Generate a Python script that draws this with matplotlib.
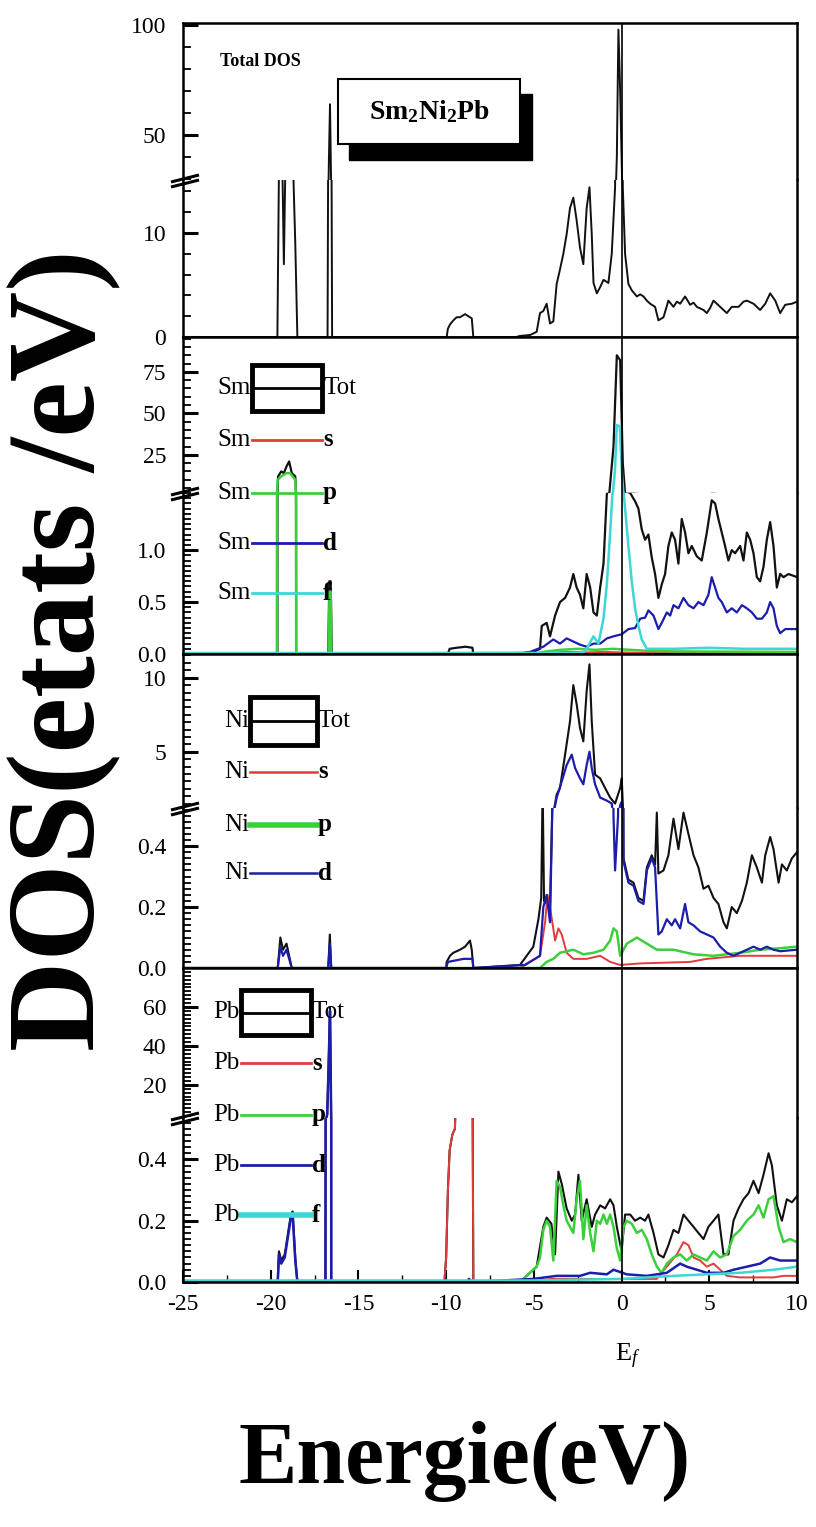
# Partial DOS of Sm2Ni2Pb : total + Sm / Ni / Pb projected DOS with broken y axes

import numpy as np
import matplotlib
matplotlib.use('Agg')
import matplotlib.pyplot as plt
from matplotlib.patches import Rectangle
from matplotlib.ticker import MultipleLocator, FixedLocator, FormatStrFormatter

plt.rcParams['font.family'] = ['Liberation Serif', 'DejaVu Serif']
plt.rcParams['mathtext.fontset'] = 'custom'
plt.rcParams['mathtext.rm'] = 'Liberation Serif'
plt.rcParams['mathtext.it'] = 'Liberation Serif:italic'
plt.rcParams['mathtext.bf'] = 'Liberation Serif:bold'
plt.rcParams['axes.unicode_minus'] = False

#~()~()~()~()~()~()~()~()~()~()~()~()~()~()~()~()~()~()~()~()~()~()~()~()~#
# data : (energy eV, DOS states/eV)

total_dos = np.array([
    (-25, 0), (-19.62, 0), (-19.52, 18), (-19.35, 18), (-19.25, 7), (-19.15, 18), (-18.75, 18),
    (-18.6, 9), (-18.48, 0), (-16.76, 0), (-16.68, 40), (-16.62, 64), (-16.56, 30), (-16.5, 0),
    (-9.97, 0), (-9.9, 0.8), (-9.78, 1.2), (-9.59, 1.6), (-9.4, 1.9), (-9.21, 1.9), (-8.92, 2.2),
    (-8.64, 1.9), (-8.54, 1.8), (-8.45, 0), (-6.0, 0), (-5.8, 0.1), (-5.2, 0.2), (-4.84, 0.5),
    (-4.65, 2.3), (-4.46, 2.5), (-4.27, 3.2), (-4.08, 1.3), (-3.89, 1.5), (-3.70, 5.1), (-3.51, 6.5),
    (-3.32, 8.0), (-3.13, 9.9), (-2.94, 12.4), (-2.75, 13.4), (-2.56, 11.2), (-2.37, 8.6),
    (-2.18, 7.0), (-1.99, 12.4), (-1.83, 14.4), (-1.70, 9.9), (-1.60, 5.2), (-1.41, 4.2),
    (-1.22, 4.8), (-1.03, 5.5), (-0.75, 5.2), (-0.56, 8.0), (-0.37, 14.4), (-0.27, 40),
    (-0.18, 98), (-0.08, 70), (0.07, 14.4), (0.20, 8.0), (0.39, 5.1), (0.58, 4.5), (0.87, 3.9),
    (1.06, 4.1), (1.25, 3.9), (1.44, 3.5), (1.63, 3.2), (1.91, 2.9), (2.10, 1.6), (2.39, 1.9),
    (2.67, 3.5), (2.96, 2.9), (3.15, 3.4), (3.34, 3.2), (3.62, 3.9), (3.91, 3.1), (4.10, 3.3),
    (4.29, 2.9), (4.67, 2.6), (4.86, 2.3), (5.05, 2.8), (5.24, 3.5), (5.62, 2.9), (6.0, 2.3),
    (6.28, 2.9), (6.67, 2.9), (6.95, 3.4), (7.14, 3.5), (7.52, 3.2), (7.90, 2.6), (8.19, 3.2),
    (8.47, 4.2), (8.76, 3.5), (9.04, 2.3), (9.33, 3.1), (9.71, 3.2), (10.0, 3.4)])

sm_tot = np.array([
    (-25, 0), (-19.62, 0), (-19.58, 12), (-19.4, 15), (-19.25, 14), (-19.1, 18), (-18.95, 21),
    (-18.8, 14), (-18.6, 12), (-18.55, 0), (-16.72, 0), (-16.66, 0.7), (-16.58, 0.7), (-16.52, 0),
    (-9.9, 0), (-9.8, 0.05), (-9.4, 0.06), (-8.9, 0.07), (-8.5, 0.06), (-8.45, 0), (-5.6, 0.01),
    (-5.03, 0.02), (-4.65, 0.05), (-4.55, 0.27), (-4.27, 0.30), (-4.08, 0.17), (-3.79, 0.37),
    (-3.51, 0.50), (-3.22, 0.54), (-2.94, 0.64), (-2.75, 0.77), (-2.56, 0.64), (-2.37, 0.57),
    (-2.18, 0.44), (-1.99, 0.77), (-1.79, 0.64), (-1.60, 0.40), (-1.41, 0.37), (-1.22, 0.64),
    (-1.03, 0.87), (-0.84, 1.54), (-0.70, 1.6), (-0.46, 30), (-0.27, 85), (-0.08, 82), (0.07, 20),
    (0.20, 1.57), (0.49, 1.55), (0.77, 1.47), (0.96, 1.40), (1.15, 1.20), (1.34, 1.10), (1.53, 1.15),
    (1.72, 0.93), (1.91, 0.77), (2.10, 0.54), (2.29, 0.67), (2.48, 0.77), (2.67, 1.04), (2.86, 1.17),
    (3.05, 1.10), (3.24, 0.87), (3.43, 1.30), (3.62, 1.17), (3.81, 0.97), (4.00, 1.04), (4.29, 0.94),
    (4.57, 0.90), (4.86, 1.17), (5.14, 1.48), (5.33, 1.45), (5.52, 1.30), (5.71, 1.17), (5.90, 1.04),
    (6.09, 0.90), (6.28, 1.00), (6.47, 0.97), (6.76, 1.04), (6.95, 0.90), (7.14, 1.17), (7.33, 1.10),
    (7.52, 0.97), (7.71, 0.74), (7.90, 0.70), (8.09, 0.84), (8.28, 1.10), (8.47, 1.27), (8.66, 1.04),
    (8.85, 0.64), (9.04, 0.77), (9.23, 0.74), (9.52, 0.77), (10.0, 0.74)])

sm_s = np.array([(-25, 0.005), (-5, 0.005), (-4, 0.015), (-3, 0.02), (-2, 0.015), (-1, 0.02),
                 (0, 0.015), (2, 0.01), (10, 0.01)])

sm_p = np.array([
    (-25, 0), (-19.65, 0), (-19.6, 10), (-19.4, 12), (-19.1, 14), (-18.9, 14), (-18.6, 10),
    (-18.55, 0), (-16.7, 0), (-16.65, 0.6), (-16.58, 0.6), (-16.54, 0), (-5, 0), (-4.5, 0.02),
    (-3.5, 0.04), (-2.5, 0.05), (-1.5, 0.04), (-0.5, 0.05), (0.5, 0.04), (1.5, 0.03), (3, 0.025),
    (10, 0.02)])

sm_d = np.array([
    (-25, 0.005), (-5.6, 0.01), (-5.22, 0.02), (-4.46, 0.07), (-3.89, 0.14), (-3.51, 0.10),
    (-3.13, 0.15), (-2.75, 0.12), (-2.37, 0.09), (-1.99, 0.07), (-1.60, 0.10), (-1.22, 0.10),
    (-0.84, 0.15), (-0.46, 0.17), (0.01, 0.19), (0.39, 0.24), (0.77, 0.25), (1.06, 0.34),
    (1.34, 0.35), (1.53, 0.42), (1.82, 0.37), (2.10, 0.24), (2.29, 0.30), (2.58, 0.40), (2.77, 0.37),
    (2.96, 0.47), (3.24, 0.44), (3.53, 0.54), (3.81, 0.47), (4.10, 0.44), (4.38, 0.50), (4.67, 0.47),
    (4.95, 0.57), (5.14, 0.74), (5.33, 0.64), (5.52, 0.54), (5.71, 0.50), (6.00, 0.40), (6.28, 0.44),
    (6.57, 0.40), (6.86, 0.47), (7.14, 0.44), (7.43, 0.40), (7.71, 0.34), (8.00, 0.34), (8.28, 0.40),
    (8.47, 0.50), (8.66, 0.44), (8.85, 0.27), (9.04, 0.20), (9.33, 0.24), (10.0, 0.24)])

sm_f = np.array([
    (-25, 0.01), (-2.2, 0.01), (-1.99, 0.05), (-1.60, 0.17), (-1.32, 0.10), (-1.03, 0.34),
    (-0.84, 0.67), (-0.65, 1.17), (-0.50, 1.6), (-0.38, 15), (-0.27, 43), (-0.10, 42), (0.03, 12),
    (0.11, 1.57), (0.20, 1.40), (0.39, 1.04), (0.58, 0.70), (0.77, 0.44), (0.96, 0.27), (1.15, 0.14),
    (1.44, 0.05), (3, 0.05), (5, 0.06), (7, 0.05), (10, 0.05)])

ni_tot = np.array([
    (-25, 0), (-19.6, 0), (-19.45, 0.10), (-19.3, 0.06), (-19.1, 0.08), (-18.95, 0.04), (-18.8, 0),
    (-16.72, 0), (-16.63, 0.11), (-16.55, 0), (-10.0, 0), (-9.97, 0.02), (-9.78, 0.04), (-9.59, 0.05),
    (-9.21, 0.06), (-8.92, 0.07), (-8.64, 0.09), (-8.54, 0.06), (-8.45, 0), (-5.79, 0.01),
    (-5.41, 0.04), (-5.03, 0.07), (-4.74, 0.16), (-4.58, 0.23), (-4.5, 0.6), (-4.42, 0.22),
    (-4.08, 0.20), (-3.92, 0.6), (-3.70, 2.1), (-3.51, 2.55), (-3.22, 4.8), (-2.94, 7.05),
    (-2.75, 9.5), (-2.56, 8.2), (-2.37, 6.6), (-2.18, 5.7), (-1.99, 9.1), (-1.83, 10.9), (-1.70, 7.05),
    (-1.51, 3.45), (-1.22, 3.2), (-0.94, 2.55), (-0.65, 1.9), (-0.37, 1.5), (-0.08, 2.55), (0.01, 3.2),
    (0.11, 0.36), (0.39, 0.29), (0.68, 0.28), (0.96, 0.23), (1.25, 0.22), (1.44, 0.33), (1.72, 0.37),
    (1.91, 0.34), (2.01, 0.51), (2.10, 0.31), (2.39, 0.32), (2.67, 0.37), (2.96, 0.49), (3.24, 0.39),
    (3.53, 0.51), (3.81, 0.44), (4.10, 0.37), (4.38, 0.33), (4.67, 0.26), (4.95, 0.27), (5.24, 0.23),
    (5.52, 0.21), (5.81, 0.15), (6.00, 0.13), (6.28, 0.20), (6.57, 0.18), (6.86, 0.22), (7.14, 0.28),
    (7.43, 0.37), (7.71, 0.33), (8.00, 0.28), (8.19, 0.37), (8.47, 0.43), (8.66, 0.39), (8.95, 0.28),
    (9.14, 0.34), (9.42, 0.32), (9.71, 0.36), (10.0, 0.38)])

ni_s = np.array([
    (-25, 0), (-5.79, 0), (-5.22, 0.02), (-4.65, 0.04), (-4.36, 0.15), (-4.22, 0.24), (-4.08, 0.20),
    (-3.79, 0.09), (-3.60, 0.13), (-3.41, 0.11), (-3.13, 0.05), (-2.75, 0.03), (-1.99, 0.03),
    (-1.22, 0.04), (-0.65, 0.02), (-0.08, 0.01), (1.06, 0.015), (3.91, 0.02), (4.86, 0.03),
    (6.76, 0.04), (10.0, 0.04)])

ni_p = np.array([
    (-25, 0), (-4.65, 0), (-4.27, 0.02), (-3.89, 0.03), (-3.51, 0.05), (-2.75, 0.06), (-2.18, 0.045),
    (-1.60, 0.05), (-1.03, 0.06), (-0.65, 0.09), (-0.46, 0.13), (-0.27, 0.12), (-0.08, 0.04),
    (0.30, 0.08), (0.87, 0.10), (1.44, 0.08), (2.01, 0.06), (2.96, 0.06), (4.10, 0.045), (5.24, 0.04),
    (6.00, 0.045), (6.76, 0.05), (7.90, 0.06), (9.04, 0.065), (10.0, 0.07)])

ni_d = np.array([
    (-25, 0), (-19.6, 0), (-19.45, 0.07), (-19.3, 0.04), (-19.1, 0.06), (-18.95, 0.03), (-18.8, 0),
    (-16.72, 0), (-16.63, 0.08), (-16.55, 0), (-10.0, 0), (-9.9, 0.02), (-9.0, 0.03), (-8.5, 0.03),
    (-8.45, 0), (-5.5, 0.01), (-5.22, 0.02), (-4.65, 0.04), (-4.46, 0.20), (-4.27, 0.24),
    (-4.08, 0.15), (-3.92, 0.6), (-3.70, 1.9), (-3.41, 3.0), (-3.13, 4.1), (-2.84, 4.8), (-2.65, 3.9),
    (-2.37, 3.2), (-2.18, 2.8), (-1.99, 4.1), (-1.83, 5.0), (-1.70, 3.9), (-1.51, 2.8), (-1.22, 1.9),
    (-0.84, 1.7), (-0.56, 1.5), (-0.46, 0.50), (-0.37, 0.32), (-0.20, 0.50), (-0.08, 1.4), (0.01, 1.6),
    (0.11, 0.35), (0.39, 0.28), (0.68, 0.27), (0.96, 0.22), (1.25, 0.21), (1.44, 0.32), (1.72, 0.36),
    (1.91, 0.33), (2.10, 0.11), (2.29, 0.12), (2.58, 0.16), (2.86, 0.14), (3.05, 0.16), (3.34, 0.13),
    (3.62, 0.21), (3.81, 0.15), (4.10, 0.14), (4.48, 0.12), (4.86, 0.11), (5.24, 0.10), (5.62, 0.07),
    (6.00, 0.05), (6.38, 0.04), (6.76, 0.05), (7.14, 0.06), (7.52, 0.07), (7.90, 0.06), (8.28, 0.07),
    (8.66, 0.06), (9.04, 0.055), (10.0, 0.06)])

pb_tot = np.array([
    (-25, 0), (-19.6, 0), (-19.53, 0.10), (-19.4, 0.07), (-19.2, 0.09), (-18.85, 0.22),
    (-18.75, 0.23), (-18.6, 0.08), (-18.48, 0), (-16.88, 0), (-16.78, 5), (-16.7, 30), (-16.62, 60),
    (-16.55, 0), (-10.1, 0), (-10.0, 0.08), (-9.9, 0.3), (-9.8, 0.43), (-9.65, 0.48), (-9.5, 0.5),
    (-9.4, 0.7), (-8.5, 0.7), (-8.45, 0), (-5.79, 0), (-4.84, 0.05), (-4.46, 0.18), (-4.27, 0.21),
    (-4.00, 0.19), (-3.79, 0.09), (-3.60, 0.36), (-3.41, 0.32), (-3.13, 0.24), (-2.84, 0.20),
    (-2.65, 0.22), (-2.46, 0.35), (-2.27, 0.20), (-1.99, 0.27), (-1.70, 0.18), (-1.51, 0.22),
    (-1.22, 0.25), (-0.94, 0.24), (-0.65, 0.27), (-0.46, 0.25), (-0.27, 0.18), (0.00, 0.10),
    (0.20, 0.22), (0.49, 0.22), (0.77, 0.20), (1.06, 0.21), (1.34, 0.20), (1.53, 0.22), (1.82, 0.16),
    (2.10, 0.09), (2.39, 0.08), (2.67, 0.12), (2.96, 0.17), (3.24, 0.16), (3.53, 0.22), (3.81, 0.20),
    (4.10, 0.18), (4.38, 0.16), (4.67, 0.14), (4.95, 0.18), (5.24, 0.20), (5.52, 0.22), (5.81, 0.09),
    (6.09, 0.09), (6.38, 0.20), (6.67, 0.24), (6.95, 0.27), (7.24, 0.29), (7.52, 0.33), (7.81, 0.29),
    (8.09, 0.35), (8.38, 0.42), (8.57, 0.38), (8.85, 0.25), (9.14, 0.20), (9.42, 0.27), (9.71, 0.26),
    (10.0, 0.28)])

pb_s = np.array([
    (-25, 0), (-10.1, 0), (-10.0, 0.08), (-9.9, 0.3), (-9.8, 0.43), (-9.65, 0.48), (-9.5, 0.5),
    (-9.4, 0.7), (-8.5, 0.7), (-8.45, 0), (-5.0, 0), (-4.0, 0.01), (2.0, 0.01), (2.58, 0.05),
    (3.15, 0.09), (3.53, 0.13), (3.81, 0.12), (4.10, 0.08), (4.48, 0.07), (4.86, 0.05), (5.24, 0.06),
    (5.62, 0.04), (6.00, 0.02), (6.76, 0.015), (8.66, 0.015), (9.23, 0.02), (10.0, 0.02)])

pb_p = np.array([
    (-25, 0), (-5.79, 0), (-5.22, 0.03), (-4.84, 0.05), (-4.65, 0.08), (-4.46, 0.17), (-4.27, 0.20),
    (-4.08, 0.18), (-3.89, 0.07), (-3.70, 0.33), (-3.51, 0.31), (-3.32, 0.25), (-3.13, 0.20),
    (-2.94, 0.18), (-2.75, 0.16), (-2.56, 0.27), (-2.37, 0.33), (-2.18, 0.14), (-1.99, 0.25),
    (-1.79, 0.16), (-1.60, 0.10), (-1.41, 0.20), (-1.22, 0.19), (-1.03, 0.22), (-0.84, 0.19),
    (-0.65, 0.22), (-0.46, 0.18), (-0.27, 0.11), (-0.08, 0.07), (0.11, 0.18), (0.30, 0.20),
    (0.58, 0.19), (0.87, 0.16), (1.15, 0.17), (1.44, 0.14), (1.72, 0.09), (2.01, 0.05), (2.29, 0.03),
    (2.58, 0.06), (2.96, 0.08), (3.34, 0.09), (3.72, 0.07), (4.10, 0.09), (4.48, 0.08), (4.86, 0.07),
    (5.24, 0.10), (5.62, 0.08), (6.00, 0.09), (6.38, 0.15), (6.76, 0.17), (7.14, 0.20), (7.52, 0.22),
    (7.81, 0.25), (8.09, 0.21), (8.38, 0.27), (8.66, 0.28), (8.95, 0.18), (9.23, 0.13), (9.61, 0.14),
    (10.0, 0.13)])

pb_d = np.array([
    (-25, 0), (-19.6, 0), (-19.53, 0.09), (-19.4, 0.06), (-19.2, 0.08), (-18.85, 0.21),
    (-18.75, 0.22), (-18.6, 0.07), (-18.48, 0), (-16.88, 0), (-16.78, 5), (-16.7, 30), (-16.62, 58),
    (-16.55, 0), (-8.8, 0), (-8.7, 0.01), (-8.5, 0), (-5.03, 0.01), (-3.70, 0.02), (-2.37, 0.02),
    (-1.79, 0.03), (-0.84, 0.025), (-0.46, 0.04), (0.30, 0.025), (1.44, 0.02), (2.58, 0.03),
    (3.34, 0.06), (3.72, 0.05), (4.29, 0.04), (4.86, 0.03), (5.81, 0.03), (6.38, 0.04), (7.14, 0.05),
    (7.90, 0.06), (8.47, 0.08), (9.04, 0.07), (10.0, 0.07)])

pb_f = np.array([(-25, 0.005), (-5, 0.005), (0.0, 0.01), (2.96, 0.02), (4.86, 0.025), (6.76, 0.03),
                 (7.71, 0.035), (8.66, 0.04), (10.0, 0.05)])

x_ticks = [-25, -20, -15, -10, -5, 0, 5, 10]
# y tick values for (upper segment, lower segment) of each panel
total_yticks = ([50, 100], [0, 10])
sm_yticks = ([25, 50, 75], [0.0, 0.5, 1.0])
ni_yticks = ([5, 10], [0.0, 0.2, 0.4])
pb_yticks = ([20, 40, 60], [0.0, 0.2, 0.4])
orbitals = ['s', 'p', 'd', 'f']

#~()~()~()~()~()~()~()~()~()~()~()~()~()~()~()~()~()~()~()~()~()~()~()~()~#
W, H = 816, 1527
X0, X1 = 183, 797
c_tot, c_s, c_p, c_d, c_f = '#111111', '#e23b3b', '#3ccf3c', '#1d1dab', '#3fd6d6'


def px_axes(fig, top, bottom):
    return fig.add_axes([X0 / W, 1 - bottom / H, (X1 - X0) / W, (bottom - top) / H])


def style_axis(ax, lim, ticks, minor, fmt):
    ax.set_xlim(-25, 10)
    ax.set_ylim(*lim)
    ax.yaxis.set_major_locator(FixedLocator(ticks))
    ax.yaxis.set_minor_locator(MultipleLocator(minor))
    ax.yaxis.set_major_formatter(FormatStrFormatter(fmt))
    ax.tick_params(axis='y', which='both', direction='in', right=False, labelsize=17, pad=12)
    ax.tick_params(axis='y', which='major', length=11, width=2.2)
    ax.tick_params(axis='y', which='minor', length=6, width=1.3)
    ax.tick_params(axis='x', which='both', bottom=False, top=False, labelbottom=False)
    for sp in ax.spines.values():
        sp.set_linewidth(1.8)
    ax.axvline(0, color='black', lw=1.2, zorder=5)


def plot_dos():
    fig = plt.figure(figsize=(W / 100, H / 100), dpi=100)

    # panel rows: pixel top / break / bottom, limits, minor steps, curves
    panels = [
        (23, 180, 337, (0, 15.1), (29.5, 101), total_yticks, (10, 2), ('%d', '%d'),
         [(total_dos, c_tot, 1.4)]),
        (337, 493, 654, (0, 1.55), (2, 96), sm_yticks, (5, 0.05), ('%d', '%.1f'),
         [(sm_tot, c_tot, 1.6), (sm_s, c_s, 1.4), (sm_p, c_p, 1.8), (sm_d, c_d, 1.6), (sm_f, c_f, 1.8)]),
        (654, 808, 968, (0, 0.525), (1.2, 11.6), ni_yticks, (0.5, 0.02), ('%d', '%.1f'),
         [(ni_tot, c_tot, 1.5), (ni_s, c_s, 1.4), (ni_p, c_p, 1.8), (ni_d, c_d, 1.6)]),
        (968, 1118, 1282, (0, 0.535), (3, 80), pb_yticks, (2, 0.02), ('%d', '%.1f'),
         [(pb_tot, c_tot, 1.5), (pb_s, c_s, 1.4), (pb_p, c_p, 1.8), (pb_d, c_d, 1.8), (pb_f, c_f, 1.8)]),
    ]

    lower_axes = []
    for top, brk, bottom, lo_lim, up_lim, yt, mn, fm, curves in panels:
        ax_u = px_axes(fig, top, brk)
        ax_l = px_axes(fig, brk, bottom)
        style_axis(ax_u, up_lim, yt[0], mn[0], fm[0])
        style_axis(ax_l, lo_lim, yt[1], mn[1], fm[1])
        ax_u.spines['bottom'].set_visible(False)
        ax_l.spines['top'].set_visible(False)
        for arr, col, lw in curves:
            for ax in (ax_u, ax_l):
                ax.plot(arr[:, 0], arr[:, 1], color=col, lw=lw)
        lower_axes.append(ax_l)

    # energy axis on the bottom panel only
    axb = lower_axes[-1]
    axb.set_xticks(x_ticks)
    axb.xaxis.set_minor_locator(MultipleLocator(2.5))
    axb.tick_params(axis='x', which='both', bottom=True, labelbottom=True, direction='in',
                    labelsize=17, pad=9)
    axb.tick_params(axis='x', which='major', length=9, width=1.5)
    axb.tick_params(axis='x', which='minor', length=5, width=1.0)

    # overlay in pixel coordinates for legends and annotations
    ov = fig.add_axes([0, 0, 1, 1], zorder=10)
    ov.set_xlim(0, W)
    ov.set_ylim(H, 0)
    ov.axis('off')
    ov.patch.set_alpha(0)

    # axis break marks
    for top, brk, bottom, *_ in panels:
        ov.plot([171, 199], [brk + 2, brk - 5], color='black', lw=2.2, solid_capstyle='butt')
        ov.plot([171, 199], [brk + 7, brk], color='black', lw=2.2, solid_capstyle='butt')

    def tot_row(atom, xa, xb, yt, yb):
        ov.add_patch(Rectangle((xa, yt), xb - xa, yb - yt, fc='white', ec='black', lw=3.5))
        ov.plot([xa, xb], [(yt + yb) / 2] * 2, color='black', lw=2)
        ov.text(xa - 1, (yt + yb) / 2, atom, ha='right', va='center', fontsize=18)
        ov.text(xb + 1, (yt + yb) / 2, 'Tot', ha='left', va='center', fontsize=18)

    def orb_row(atom, orb, col, lw, xa, xb, y):
        ov.plot([xa, xb], [y, y], color=col, lw=lw)
        ov.text(xa - 1, y, atom, ha='right', va='center', fontsize=18)
        ov.text(xb + 1, y, orb, ha='left', va='center', fontsize=18, fontweight='bold')

    tot_row('Sm', 252, 322, 365, 411)
    for orb, col, y in zip(orbitals, [c_s, c_p, c_d, c_f], [440, 493, 543, 593]):
        orb_row('Sm', orb, col, 2.0, 252, 322, y)
    tot_row('Ni', 250, 317, 697, 745)
    for orb, col, lw, y in zip(orbitals[:3], [c_s, c_p, c_d], [1.8, 4.0, 1.8], [772, 825, 873]):
        orb_row('Ni', orb, col, lw, 250, 317, y)
    tot_row('Pb', 241, 311, 990, 1035)
    for orb, col, lw, y in zip(orbitals, [c_s, c_p, c_d, c_f], [2, 2, 2, 4], [1063, 1115, 1165, 1215]):
        orb_row('Pb', orb, col, lw, 241, 311, y)

    # total DOS panel labels
    ov.text(220, 62, 'Total DOS', ha='left', va='center', fontsize=13, fontweight='bold')
    ov.add_patch(Rectangle((349, 94), 183, 66, fc='black', ec='black'))
    ov.add_patch(Rectangle((338, 79), 182, 65, fc='white', ec='black', lw=1.5))
    ov.text(429, 112, r'Sm$_\mathbf{2}$Ni$_\mathbf{2}$Pb', ha='center', va='center',
            fontsize=20, fontweight='bold')

    ov.text(628, 1356, r'E$_f$', ha='center', va='center', fontsize=19)
    ov.text(465, 1462, 'Energie(eV)', ha='center', va='center', fontsize=63, fontweight='bold')
    ov.text(64, 650, 'DOS(etats /eV)', ha='center', va='center', rotation=90,
            fontsize=90, fontweight='bold')

    plt.savefig('out.png', dpi=100)


#~()~()~()~()~()~()~()~()~()~()~()~()~()~()~()~()~()~()~()~()~()~()~()~()~#
if __name__ == '__main__':
    plot_dos()
